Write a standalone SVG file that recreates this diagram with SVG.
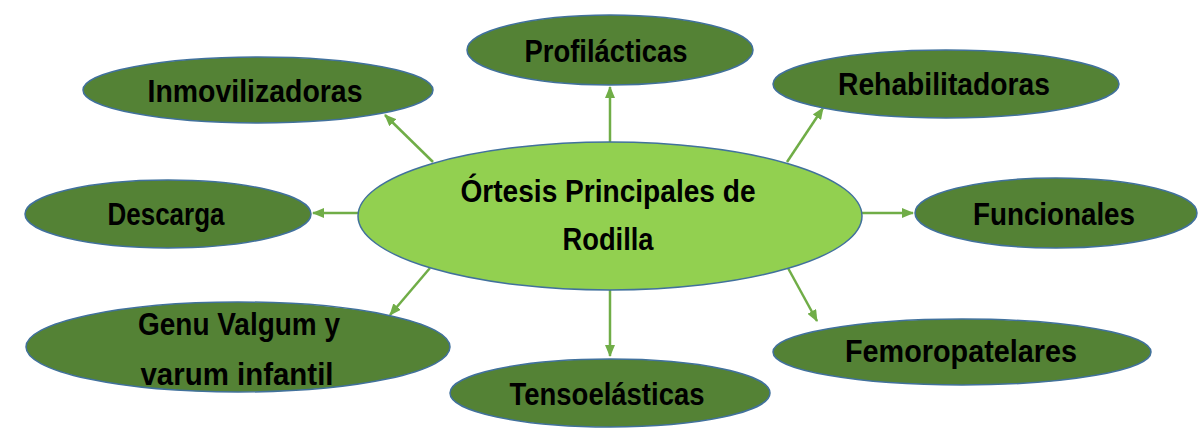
<svg xmlns="http://www.w3.org/2000/svg" width="1203" height="437" viewBox="0 0 1203 437">
<style>
.n{fill:#548235;stroke:#41719C;stroke-width:1.5}
.c{fill:#92D050;stroke:#41719C;stroke-width:1.5}
.t{font-family:"Liberation Sans",Arial,sans-serif;font-weight:bold;font-size:32px;fill:#000;text-anchor:middle}
.e{stroke:#70AD47;stroke-width:2.5;fill:none;marker-end:url(#ah)}
</style>
<defs>
<marker id="ah" markerUnits="userSpaceOnUse" markerWidth="12" markerHeight="10" refX="11" refY="5" orient="auto">
<path d="M0,0 L12,5 L0,10 z" fill="#70AD47"/>
</marker>
</defs>
<rect width="1203" height="437" fill="#fff"/>
<g id="connectors">
<line class="e" x1="610" y1="145" x2="610" y2="87"/>
<line class="e" x1="787" y1="162" x2="823" y2="108"/>
<line class="e" x1="433" y1="162" x2="385" y2="115"/>
<line class="e" x1="360" y1="213" x2="313" y2="213"/>
<line class="e" x1="860" y1="213" x2="913" y2="213"/>
<line class="e" x1="430" y1="268" x2="390" y2="315"/>
<line class="e" x1="610" y1="288" x2="610" y2="356"/>
<line class="e" x1="788" y1="268" x2="817" y2="321"/>
</g>
<g id="center">
<ellipse class="c" cx="610" cy="216" rx="252" ry="74"/>
<text class="t" x="608" y="202" textLength="295" lengthAdjust="spacingAndGlyphs">Órtesis Principales de</text>
<text class="t" x="608" y="250" textLength="91" lengthAdjust="spacingAndGlyphs">Rodilla</text>
</g>
<g id="profilacticas">
<ellipse class="n" cx="610" cy="50" rx="143" ry="35"/>
<text class="t" x="606" y="62" textLength="163" lengthAdjust="spacingAndGlyphs">Profilácticas</text>
</g>
<g id="rehabilitadoras">
<ellipse class="n" cx="946" cy="84" rx="173" ry="34"/>
<text class="t" x="944" y="95" textLength="212" lengthAdjust="spacingAndGlyphs">Rehabilitadoras</text>
</g>
<g id="inmovilizadoras">
<ellipse class="n" cx="258" cy="90" rx="175" ry="33"/>
<text class="t" x="255" y="102" textLength="215" lengthAdjust="spacingAndGlyphs">Inmovilizadoras</text>
</g>
<g id="descarga">
<ellipse class="n" cx="168" cy="214" rx="143" ry="34"/>
<text class="t" x="166" y="225" textLength="117" lengthAdjust="spacingAndGlyphs">Descarga</text>
</g>
<g id="funcionales">
<ellipse class="n" cx="1056" cy="213" rx="141" ry="35"/>
<text class="t" x="1054" y="225" textLength="162" lengthAdjust="spacingAndGlyphs">Funcionales</text>
</g>
<g id="genu">
<ellipse class="n" cx="238" cy="347" rx="212" ry="45"/>
<text class="t" x="239" y="335" textLength="202" lengthAdjust="spacingAndGlyphs">Genu Valgum y</text>
<text class="t" x="237" y="385" textLength="193" lengthAdjust="spacingAndGlyphs">varum infantil</text>
</g>
<g id="tensoelasticas">
<ellipse class="n" cx="610" cy="393" rx="160" ry="34"/>
<text class="t" x="607" y="405" textLength="195" lengthAdjust="spacingAndGlyphs">Tensoelásticas</text>
</g>
<g id="femoropatelares">
<ellipse class="n" cx="962" cy="352" rx="189" ry="33"/>
<text class="t" x="961" y="362" textLength="232" lengthAdjust="spacingAndGlyphs">Femoropatelares</text>
</g>
</svg>
